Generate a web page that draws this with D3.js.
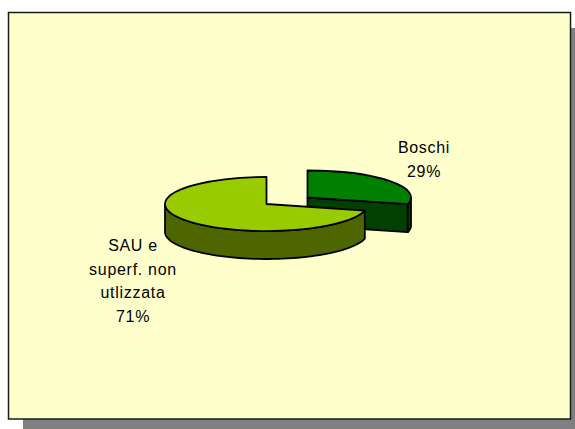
<!DOCTYPE html>
<html><head><meta charset="utf-8">
<script src="https://cdnjs.cloudflare.com/ajax/libs/d3/7.8.5/d3.min.js"></script>
<style>html,body{margin:0;padding:0;background:#fff}svg{display:block}</style></head>
<body><svg id="c" width="575" height="429"></svg>
<script>
const categories = ["Boschi", "SAU e superf. non utlizzata"];
const values = [29, 71];
const labelLines = [["Boschi", "29%"], ["SAU e", "superf. non", "utlizzata", "71%"]];
const topColors = ["#008000", "#99CC00"];
const sideColors = ["#004000", "#4D6600"];

const svg = d3.select("#c");
const radii = [103.5, 101.5], ry = 27, depth = 28;
const centers = [[307.5, 197.5], [266.5, 204]];
const labelPos = [[424, 153], [133, 251]];
const lineH = [23.7, 23.7];

svg.append("rect").attr("x", 23).attr("y", 28).attr("width", 552).attr("height", 401).attr("fill", "#808080");
svg.append("rect").attr("x", 8.5).attr("y", 12.5).attr("width", 562).attr("height", 406.5)
  .attr("fill", "#FFFFCC").attr("stroke", "#1a1a1a").attr("stroke-width", 1.5);

const arcs = d3.pie().sort(null)(values);
const arcGen = d3.arc().innerRadius(0).outerRadius(1);
const line = d3.line();
const style = s => s.attr("stroke", "#000").attr("stroke-width", 1.8).attr("stroke-linejoin", "round");

arcs.forEach((d, i) => {
  const c = centers[i], rx = radii[i];
  const px = a => c[0] + rx * Math.sin(a);
  const py = a => c[1] - ry * Math.cos(a);
  const wall = (a0, a1) => {
    const n = d3.range(0, 61).map(k => a0 + (a1 - a0) * k / 60);
    const upper = n.map(a => [px(a), py(a)]);
    const lower = n.slice().reverse().map(a => [px(a), py(a) + depth]);
    svg.append("path").attr("d", line(upper.concat(lower)) + "Z").attr("fill", sideColors[i]).call(style);
  };
  if (i === 0) {
    const a = d.endAngle;
    const corner = [px(a), py(a)];
    svg.append("path")
      .attr("d", line([c, corner, [corner[0], corner[1] + depth], [c[0], c[1] + depth]]) + "Z")
      .attr("fill", sideColors[i]).call(style);
    wall(Math.PI / 2, a);
  } else {
    wall(d.startAngle, 3 * Math.PI / 2);
  }
  svg.append("path")
    .attr("transform", `translate(${c[0]},${c[1]}) scale(${rx},${ry})`)
    .attr("d", arcGen(d)).attr("fill", topColors[i])
    .attr("vector-effect", "non-scaling-stroke").call(style);
});

labelLines.forEach((lines, i) => {
  lines.forEach((t, j) => {
    svg.append("text").attr("x", labelPos[i][0]).attr("y", labelPos[i][1] + j * lineH[i])
      .attr("text-anchor", "middle").attr("font-family", "'Liberation Sans', Arial, sans-serif")
      .attr("font-size", 16).attr("letter-spacing", 0.7).attr("fill", "#000").text(t);
  });
});
</script></body></html>
